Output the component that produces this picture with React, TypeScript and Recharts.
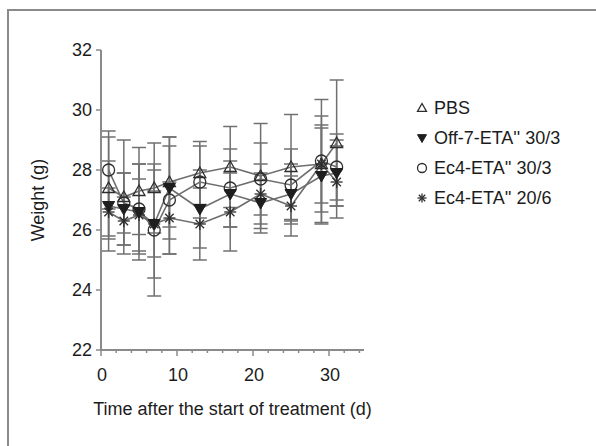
import { LineChart, Line, XAxis, YAxis, ErrorBar, Legend } from "recharts";

// days after the start of treatment
const days = [1, 3, 5, 7, 9, 13, 17, 21, 25, 29, 31];

// mean weight (g) and SD per group
const pbsMean = [27.4, 27.1, 27.3, 27.4, 27.6, 27.9, 28.1, 27.8, 28.1, 28.2, 28.9];
const pbsSd = [1.7, 1.9, 1.45, 1.5, 1.5, 1.05, 1.35, 1.75, 1.75, 1.6, 2.1];
const offMean = [26.8, 26.7, 26.6, 26.2, 27.4, 26.7, 27.2, 26.9, 27.2, 27.8, 27.9];
const offSd = [1.5, 1.2, 1.6, 1.8, 1.7, 1.3, 1.1, 1.0, 1.0, 1.6, 1.1];
const ec30Mean = [28.0, 26.9, 26.7, 26.0, 27.0, 27.6, 27.4, 27.7, 27.5, 28.3, 28.1];
const ec30Sd = [1.3, 1.0, 1.5, 2.2, 1.8, 1.2, 1.3, 1.2, 1.2, 2.05, 1.1];
const ec20Mean = [26.6, 26.3, 26.5, 26.2, 26.4, 26.2, 26.6, 27.2, 26.8, 28.2, 27.6];
const ec20Sd = [0.8, 0.8, 1.2, 1.1, 1.2, 1.2, 1.3, 1.0, 1.0, 1.3, 1.2];

const seriesNames = ["PBS", "Off-7-ETA'' 30/3", "Ec4-ETA'' 30/3", "Ec4-ETA'' 20/6"];

const xTicks = [0, 2, 4, 6, 8, 10, 12, 14, 16, 18, 20, 22, 24, 26, 28, 30, 32, 34];
const yTicks = [22, 24, 26, 28, 30, 32];

const data = days.map((d, i) => ({
  day: d,
  pbs: pbsMean[i],
  pbsErr: pbsSd[i],
  off: offMean[i],
  offErr: offSd[i],
  ec30: ec30Mean[i],
  ec30Err: ec30Sd[i],
  ec20: ec20Mean[i],
  ec20Err: ec20Sd[i],
}));

const FONT = "'Liberation Sans', Arial, sans-serif";
const AXIS = "#8a8a8a";
const LINE = "#6e6e6e";
const MARK = "#2e2e2e";

type Shape = "tri" | "inv" | "circle" | "star";
const shapes: Shape[] = ["tri", "inv", "circle", "star"];

function Marker({ shape, cx, cy, s }: { shape: Shape; cx: number; cy: number; s: number }) {
  if (shape === "tri") {
    return (
      <polygon
        points={`${cx},${cy - s} ${cx - s},${cy + s * 0.75} ${cx + s},${cy + s * 0.75}`}
        fill="none"
        stroke={MARK}
        strokeWidth={1.3}
      />
    );
  }
  if (shape === "inv") {
    return (
      <polygon
        points={`${cx - s},${cy - s * 0.75} ${cx + s},${cy - s * 0.75} ${cx},${cy + s}`}
        fill="#1e1e1e"
        stroke="#1e1e1e"
        strokeWidth={1}
      />
    );
  }
  if (shape === "circle") {
    return <circle cx={cx} cy={cy} r={s} fill="none" stroke={MARK} strokeWidth={1.3} />;
  }
  const spokes = [0, 45, 90, 135].map((a) => {
    const r = (a * Math.PI) / 180;
    return (
      <line
        key={a}
        x1={cx - Math.cos(r) * s}
        y1={cy - Math.sin(r) * s}
        x2={cx + Math.cos(r) * s}
        y2={cy + Math.sin(r) * s}
        stroke={MARK}
        strokeWidth={1.3}
      />
    );
  });
  return <g>{spokes}</g>;
}

const makeDot = (shape: Shape) => (props: any) => {
  const { cx, cy, index } = props;
  if (cx == null || cy == null) return <g key={index} />;
  return (
    <g key={`${shape}-${index}`}>
      <Marker shape={shape} cx={cx} cy={cy} s={6} />
    </g>
  );
};

const XTick = (props: any) => {
  const { x, y, payload } = props;
  const major = payload.value % 10 === 0;
  return (
    <g>
      <line x1={x} y1={y} x2={x} y2={y + (major ? 6 : 3)} stroke={AXIS} strokeWidth={1.5} />
      {major && (
        <text x={x + 1} y={y + 31} textAnchor="middle" fontSize={18} fill="#1c1c1c" fontFamily={FONT}>
          {payload.value}
        </text>
      )}
    </g>
  );
};

const LegendContent = () => (
  <div style={{ fontFamily: FONT, fontSize: 18, color: "#1c1c1c" }}>
    {seriesNames.map((name, i) => (
      <div key={name} style={{ display: "flex", alignItems: "center", height: 30 }}>
        <svg width={14} height={14} style={{ marginRight: 5 }}>
          <Marker shape={shapes[i]} cx={7} cy={7} s={4.5} />
        </svg>
        <span>{name}</span>
      </div>
    ))}
  </div>
);

export default function App() {
  const series = [
    { key: "pbs", err: "pbsErr" },
    { key: "ec20", err: "ec20Err" },
    { key: "ec30", err: "ec30Err" },
    { key: "off", err: "offErr" },
  ];
  const shapeOf: Record<string, Shape> = { pbs: "tri", off: "inv", ec30: "circle", ec20: "star" };

  return (
    <div style={{ position: "absolute", left: 0, top: 0, width: 596, height: 446, background: "#fff" }}>
      <div
        style={{
          position: "absolute",
          left: 7,
          top: 9,
          width: 600,
          height: 450,
          borderLeft: `2px solid ${AXIS}`,
          borderTop: `2px solid ${AXIS}`,
        }}
      />
      <LineChart
        width={596}
        height={446}
        data={data}
        margin={{ top: 50, right: 232, bottom: 0, left: 0 }}
        style={{ position: "absolute", left: 0, top: 0 }}
      >
        <XAxis
          dataKey="day"
          type="number"
          domain={[0, 34.6]}
          ticks={xTicks}
          interval={0}
          height={96}
          tickSize={0}
          tickMargin={0}
          tickLine={false}
          tick={<XTick />}
          axisLine={{ stroke: AXIS, strokeWidth: 2 }}
          label={{
            value: "Time after the start of treatment (d)",
            position: "insideBottom",
            offset: 31,
            fontSize: 18,
            fill: "#1c1c1c",
            fontFamily: FONT,
          }}
        />
        <YAxis
          type="number"
          domain={[22, 32]}
          ticks={yTicks}
          interval={0}
          width={101}
          tickSize={5}
          tickMargin={4}
          tick={{ fontSize: 18, fill: "#1c1c1c", fontFamily: FONT }}
          tickLine={{ stroke: AXIS, strokeWidth: 1.5 }}
          axisLine={{ stroke: AXIS, strokeWidth: 2 }}
          label={{
            value: "Weight (g)",
            angle: -90,
            position: "insideLeft",
            offset: 38,
            textAnchor: "middle",
            fontSize: 18,
            fill: "#1c1c1c",
            fontFamily: FONT,
          }}
        />
        <Legend
          layout="vertical"
          align="center"
          verticalAlign="middle"
          content={<LegendContent />}
          wrapperStyle={{ left: 415, top: 93, width: 180 }}
        />
        {series.map((s) => (
          <Line
            key={s.key}
            dataKey={s.key}
            stroke={LINE}
            strokeWidth={1.6}
            dot={makeDot(shapeOf[s.key])}
            activeDot={false}
            isAnimationActive={false}
            legendType="none"
          >
            <ErrorBar dataKey={s.err} width={7} stroke="#707070" strokeWidth={1.5} isAnimationActive={false} />
          </Line>
        ))}
      </LineChart>
    </div>
  );
}
